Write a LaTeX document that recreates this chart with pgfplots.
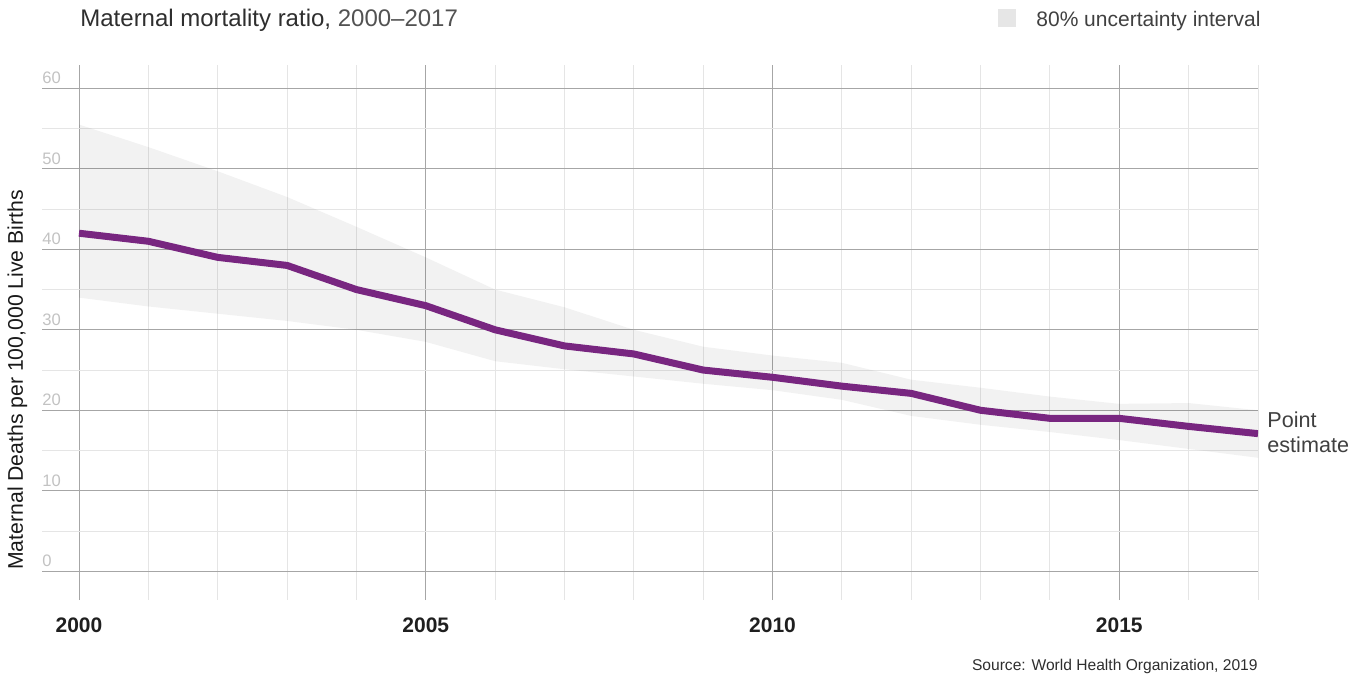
\documentclass[border=0pt]{standalone}
\usepackage{pgfplots}
\usepackage{pgfplotstable}
\pgfplotsset{compat=1.18}
\usepackage{fontspec}
\setmainfont{Liberation Sans}
\definecolor{mmr}{RGB}{120,38,128}
\definecolor{legsq}{RGB}{230,230,230}

\pgfplotstableread{
year est
2000 42.0
2001 41.0
2002 39.0
2003 38.0
2004 35.0
2005 33.0
2006 30.0
2007 28.0
2008 27.0
2009 25.0
2010 24.1
2011 23.0
2012 22.1
2013 20.0
2014 19.0
2015 19.0
2016 18.0
2017 17.1
}\mmrest

% 80% uncertainty interval: upper bound 2000->2017, then lower bound 2017->2000
\pgfplotstableread{
year val
2000 55.5
2001 52.7
2002 49.7
2003 46.5
2004 42.8
2005 39.0
2006 35.0
2007 32.8
2008 30.0
2009 27.9
2010 26.8
2011 25.9
2012 23.8
2013 22.8
2014 21.7
2015 20.8
2016 20.9
2017 20.0
2017 14.1
2016 15.2
2015 16.3
2014 17.3
2013 18.2
2012 19.3
2011 21.3
2010 22.5
2009 23.3
2008 24.2
2007 25.1
2006 26.1
2005 28.5
2004 30.0
2003 31.1
2002 32.0
2001 32.9
2000 34.0
}\mmrband

\begin{document}
\begin{tikzpicture}
\useasboundingbox (0,0) rectangle (675.5pt,338.5pt);
\begin{axis}[
  at={(21pt,38.5pt)}, anchor=south west,
  scale only axis, width=608pt, height=267.5pt,
  xmin=1999.4665, xmax=2017, ymin=-3.57, ymax=62.9,
  xtick={2000,2005,2010,2015}, xticklabels={2000,2005,2010,2015},
  minor xtick={2001,2002,2003,2004,2006,2007,2008,2009,2011,2012,2013,2014,2016,2017},
  ytick={0,10,20,30,40,50,60},
  minor ytick={5,15,25,35,45,55},
  grid=both,
  major grid style={draw=black!35, line width=0.5pt},
  minor grid style={draw=black!10, line width=0.5pt},
  axis line style={draw=none},
  major tick length=0pt, minor tick length=0pt,
  /pgf/number format/assume math mode=true,
  xticklabel style={font=\fontsize{10.5}{12}\selectfont\bfseries, text=black!88, inner sep=0pt, anchor=north, yshift=-8.5pt},
  yticklabel style={font=\fontsize{8.3}{9}\selectfont, text=black!24, inner sep=0pt, anchor=south west, yshift=2pt},
]
\addplot[fill=black, fill opacity=0.05, draw=none] table[x=year, y=val] {\mmrband} -- cycle;
\addplot[mmr, line width=3.5pt, line join=round] table[x=year, y=est] {\mmrest};
\end{axis}
\node[anchor=base west, inner sep=0pt, font=\fontsize{12}{14}\selectfont, text=black!82] at (40pt,325.5pt) {Maternal mortality ratio, {\color{black!68}2000–2017}};
\fill[legsq] (499pt,325pt) rectangle (508pt,334pt);
\node[anchor=base west, inner sep=0pt, font=\fontsize{10.5}{12}\selectfont, text=black!75] at (518pt,325.5pt) {80\% uncertainty interval};
\node[anchor=base west, inner sep=0pt, font=\fontsize{10.8}{12}\selectfont, text=black!75] at (633.5pt,125pt) {Point};
\node[anchor=base west, inner sep=0pt, font=\fontsize{10.8}{12}\selectfont, text=black!75] at (633.5pt,112.5pt) {estimate};
\node[anchor=base east, inner sep=0pt, font=\fontsize{7.8}{9}\selectfont, text=black!82] at (629pt,3.5pt) {Source: World Health Organization, 2019};
\node[rotate=90, anchor=base, inner sep=0pt, font=\fontsize{10.6}{12}\selectfont, text=black!90] at (11.5pt,148.5pt) {Maternal Deaths per 100,000 Live Births};
\end{tikzpicture}
\end{document}
